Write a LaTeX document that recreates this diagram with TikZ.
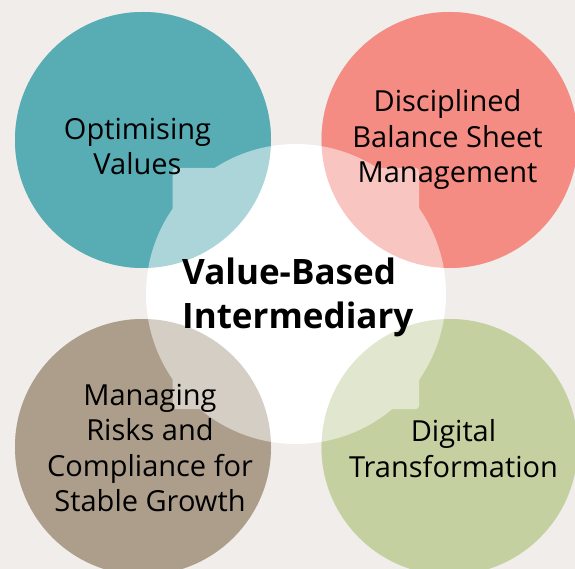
\documentclass[tikz,border=0pt]{standalone}
\usepackage{fontspec}
\setmainfont{Open Sans}
\definecolor{bg}{RGB}{240,237,234}
\definecolor{cteal}{RGB}{88,172,180}
\definecolor{csalmon}{RGB}{245,140,131}
\definecolor{ctaupe}{RGB}{173,158,139}
\definecolor{cgreen}{RGB}{197,208,160}
\begin{document}
\begin{tikzpicture}[x=1pt,y=-1pt,
  petal/.style={circle, minimum size=256pt, inner sep=0pt, draw=none, fill=#1},
  tint/.style={circle, minimum size=256pt, inner sep=0pt, draw=none, fill=#1, fill opacity=0.5},
  label/.style={align=center, inner sep=0pt, font=\fontsize{29}{35.5}\selectfont},
  core/.style={align=left, inner sep=0pt, font=\fontsize{35}{44}\selectfont\bfseries}]
\useasboundingbox (0,0) rectangle (575,569);
\fill[bg] (0,0) rectangle (575,569);
\clip (0,0) rectangle (575,569);
% coloured circles
\node[petal=cteal]   (c1) at (143,140) {};
\node[petal=csalmon] (c2) at (449.5,140) {};
\node[petal=ctaupe]  (c3) at (143,447) {};
\node[petal=cgreen]  (c4) at (449.5,447) {};
% central white shape
\node[circle, minimum size=300pt, inner sep=0pt, fill=white] (hub) at (296,294) {};
\node[rounded corners=3pt, minimum width=246.5pt, minimum height=241pt, inner sep=0pt, fill=white] (hubbox) at (295.75,288.5) {};
% tinted overlaps
\node[tint=cteal]   (t1) at (c1) {};
\node[tint=csalmon] (t2) at (c2) {};
\node[tint=ctaupe]  (t3) at (c3) {};
\node[tint=cgreen]  (t4) at (c4) {};
% texts (base anchor = baseline of last line)
\node[label, anchor=base] (l1) at (137.5,175) {Optimising\\Values};
\node[label, anchor=base] (l2) at (447.5,183) {Disciplined\\Balance Sheet\\Management};
\node[label, anchor=base] (l3) at (150,511.5) {Managing\\Risks and\\Compliance for\\Stable Growth};
\node[label, anchor=base] (l4) at (453.5,477) {Digital\\Transformation};
\node[core, anchor=base west] (l0) at (182,328) {Value-Based\\Intermediary};
\end{tikzpicture}
\end{document}
